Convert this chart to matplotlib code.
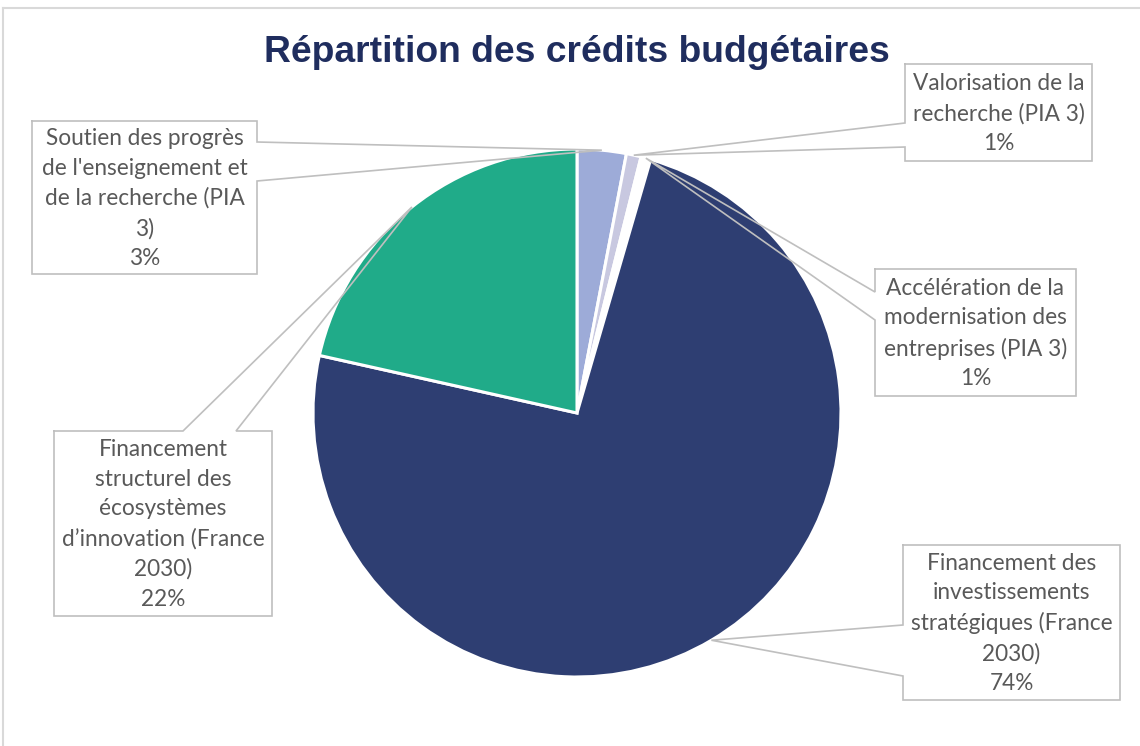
import numpy as np
import matplotlib
matplotlib.use("Agg")
import matplotlib.pyplot as plt
from matplotlib.lines import Line2D

# budget shares (%), clockwise from 12 o'clock
labels = [
    "Soutien des progrès\nde l'enseignement et\nde la recherche (PIA\n3)",
    "Valorisation de la\nrecherche (PIA 3)",
    "Accélération de la\nmodernisation des\nentreprises (PIA 3)",
    "Financement des\ninvestissements\nstratégiques (France\n2030)",
    "Financement\nstructurel des\nécosystèmes\nd’innovation (France\n2030)",
]
values = [3.0, 0.9, 0.6, 74.0, 21.5]
colors = ["#9dabd8", "#c8c8e0", "#ffffff", "#2e3e72", "#20ab89"]

W, H = 1140, 746
CX, CY, R = 577, 413, 264

# callout boxes in pixels: left, top, right, bottom, side of the pointer, pointer span
boxes = [
    (32, 121, 257, 274, "right", (142, 181)),
    (905, 64, 1092, 161, "left", (123, 147)),
    (875, 269, 1076, 396, "left", (292, 320)),
    (903, 545, 1120, 700, "left", (625, 676)),
    (54, 431, 272, 616, "top", (183, 236)),
]

GRAY = "#bfbfbf"
TXT = "#595959"


def px(x, y):
    return (x - CX) / R, (CY - y) / R


fig = plt.figure(figsize=(W / 100, H / 100), dpi=100)
ax = fig.add_axes([0, 0, 1, 1])
ax.axis("off")

wedges, _ = ax.pie(values, colors=colors, startangle=90, counterclock=False,
                   radius=1, wedgeprops=dict(edgecolor="white", linewidth=2.2))
ax.set_xlim(-CX / R, (W - CX) / R)
ax.set_ylim(-(H - CY) / R, CY / R)
ax.set_aspect("equal")

total = sum(values)
for w, lab, val, (l, t, r, b, side, (p1, p2)) in zip(wedges, labels, values, boxes):
    mid = np.radians((w.theta1 + w.theta2) / 2)
    tip = (np.cos(mid), np.sin(mid))
    if side == "right":
        pts = [(l, t), (r, t), (r, p1), None, (r, p2), (r, b), (l, b), (l, t)]
    elif side == "left":
        pts = [(l, t), (r, t), (r, b), (l, b), (l, p2), None, (l, p1), (l, t)]
    else:
        pts = [(l, t), (p1, t), None, (p2, t), (r, t), (r, b), (l, b), (l, t)]
    xy = [tip if p is None else px(*p) for p in pts]
    xs, ys = zip(*xy)
    ax.plot(xs, ys, color=GRAY, lw=1.2, solid_joinstyle="miter")

    pct = np.floor(val / total * 100 + 0.5)
    tx, ty = px((l + r) / 2, (t + b) / 2 + 1)
    ax.text(tx, ty, f"{lab}\n{pct:.0f}%", ha="center", va="center",
            fontsize=16.3, family="Lato", color=TXT, linespacing=1.5,
            multialignment="center")

fig.text(577 / W, 1 - 53 / H, "Répartition des crédits budgétaires",
         ha="center", va="center", fontsize=26.8, fontweight="bold",
         family="Liberation Sans", color="#1f2d5e")

# chart area border
fig.add_artist(Line2D([3 / W, 1], [1 - 8 / H, 1 - 8 / H], color="#d9d9d9", lw=1.5,
                      transform=fig.transFigure))
fig.add_artist(Line2D([3 / W, 3 / W], [0, 1 - 8 / H], color="#d9d9d9", lw=1.5,
                      transform=fig.transFigure))

fig.savefig("out.png", dpi=100)
